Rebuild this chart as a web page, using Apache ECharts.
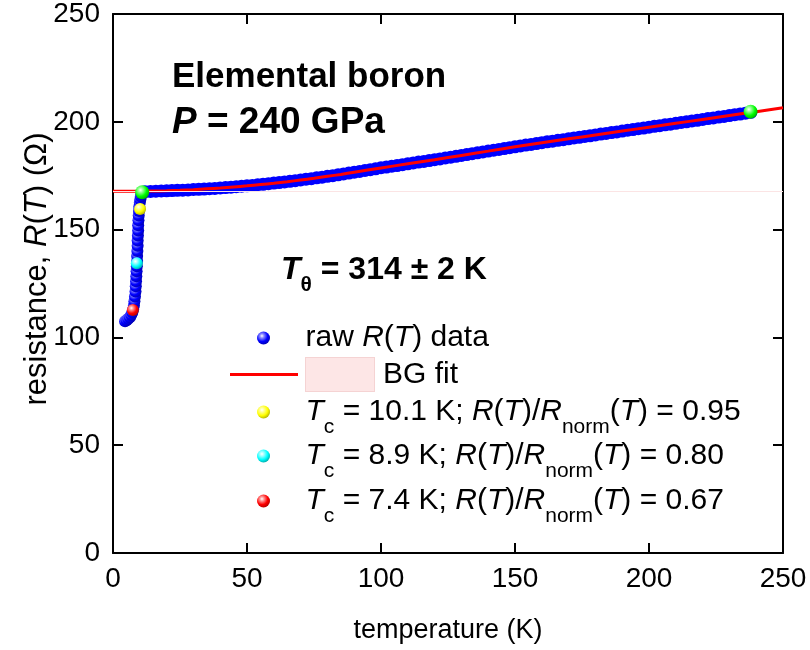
<!DOCTYPE html>
<html>
<head>
<meta charset="utf-8">
<script src="https://cdn.jsdelivr.net/npm/echarts@6/dist/echarts.min.js"></script>
<style>
  html, body { margin: 0; padding: 0; background: #ffffff; }
  #chart { width: 810px; height: 650px; }
</style>
</head>
<body>
<div id="chart"></div>
<script>
const FONT = '"Liberation Sans", Arial, Helvetica, sans-serif';

// Raw R(T) across the superconducting transition (K, Ohm)
const transT = [4.5, 5.1, 5.7, 6.3, 6.8, 7.2, 7.5, 7.8, 8.0, 8.2, 8.4, 8.5, 8.6, 8.7, 8.8, 8.9, 9.0, 9.0, 9.1, 9.2, 9.2, 9.3, 9.4, 9.4, 9.5, 9.6, 9.7, 9.8, 10.0, 10.2, 10.4, 10.6, 10.8, 11.2, 11.6];
const transR = [107.5, 108.0, 108.6, 109.4, 110.4, 111.6, 113.0, 114.8, 116.8, 119.0, 121.3, 123.7, 126.0, 128.4, 130.7, 133.0, 135.4, 137.8, 140.1, 142.5, 144.9, 147.3, 149.6, 152.0, 154.3, 156.5, 158.6, 160.6, 162.4, 164.0, 165.4, 166.5, 167.0, 167.3, 167.5];

// Raw R(T) in the normal state (K, Ohm)
const rawT = [12, 14, 16, 18, 20, 22, 24, 26, 28, 30, 32, 34, 36, 38, 40, 42, 44, 46, 48, 50,
              52, 54, 56, 58, 60, 62, 64, 66, 68, 70, 72, 74, 76, 78, 80, 82, 84, 86, 88, 90,
              92, 94, 96, 98, 100, 102, 104, 106, 108, 110, 112, 114, 116, 118, 120, 122, 124, 126, 128, 130,
              132, 134, 136, 138, 140, 142, 144, 146, 148, 150, 152, 154, 156, 158, 160, 162, 164, 166, 168, 170,
              172, 174, 176, 178, 180, 182, 184, 186, 188, 190, 192, 194, 196, 198, 200, 202, 204, 206, 208, 210,
              212, 214, 216, 218, 220, 222, 224, 226, 228, 230, 232, 234, 236, 238];
const rawR = [167.6, 167.7, 167.8, 167.9, 168.0, 168.1, 168.2, 168.3, 168.4, 168.6, 168.7, 168.8, 169.0, 169.1, 169.3, 169.5, 169.7, 169.9, 170.1, 170.3,
              170.5, 170.8, 171.0, 171.3, 171.6, 171.8, 172.1, 172.4, 172.7, 173.0, 173.4, 173.6, 174.0, 174.3, 174.7, 175.0, 175.4, 175.8, 176.2, 176.6,
              177.0, 177.4, 177.8, 178.2, 178.7, 179.0, 179.4, 179.7, 180.1, 180.5, 180.9, 181.3, 181.6, 182.0, 182.4, 182.8, 183.2, 183.6, 184.0, 184.4,
              184.8, 185.2, 185.6, 186.0, 186.4, 186.8, 187.2, 187.6, 188.0, 188.4, 188.8, 189.2, 189.5, 189.9, 190.3, 190.7, 191.0, 191.4, 191.7, 192.1,
              192.5, 192.8, 193.2, 193.5, 193.9, 194.3, 194.6, 195.0, 195.3, 195.7, 196.1, 196.4, 196.8, 197.1, 197.5, 197.9, 198.2, 198.6, 198.9, 199.3,
              199.7, 200.0, 200.4, 200.7, 201.1, 201.5, 201.8, 202.2, 202.5, 202.9, 203.3, 203.6, 204.0, 204.4];

// Bloch-Grueneisen background fit (K, Ohm)
const fitT = [0, 5, 10, 15, 20, 25, 30, 35, 40, 45, 50, 55, 60, 65, 70, 75, 80, 85, 90, 100,
              110, 120, 130, 140, 150, 160, 170, 180, 190, 200, 210, 220, 230, 240, 250];
const fitR = [167.8, 167.8, 167.8, 167.9, 168.0, 168.2, 168.5, 168.9, 169.3, 169.8, 170.3, 170.9, 171.5, 172.2, 173.0, 173.8, 174.7, 175.6, 176.6, 178.6,
              180.5, 182.4, 184.4, 186.4, 188.4, 190.3, 192.1, 193.9, 195.7, 197.5, 199.3, 201.1, 202.9, 204.7, 206.5];
const fitLevel = 167.8;

// Ends of the fitted range
const fitEndsT = [10.9, 237.9];
const fitEndsR = [167.3, 204.7];

// Tc criteria points
const tcT = [10.1, 8.9, 7.4];
const tcR = [159.6, 134.4, 112.7];
const tcColors = ['#ffff00', '#00ffff', '#ff0000'];
const tcDark = ['#b0b000', '#00a8a8', '#b00000'];
const tcLight = ['#ffff9a', '#a8ffff', '#ff9a9a'];
const tcNames = ['tc95', 'tc80', 'tc67'];
const tcLabels = [
  '{i|T}{s|c}{n| = 10.1 K; }{i|R}{n|(}{i|T}{n|)/}{i|R}{s|norm}{n|(}{i|T}{n|) = 0.95}',
  '{i|T}{s|c}{n| = 8.9 K; }{i|R}{n|(}{i|T}{n|)/}{i|R}{s|norm}{n|(}{i|T}{n|) = 0.80}',
  '{i|T}{s|c}{n| = 7.4 K; }{i|R}{n|(}{i|T}{n|)/}{i|R}{s|norm}{n|(}{i|T}{n|) = 0.67}'
];

const xTicks = { min: 0, max: 250, interval: 50 };
const yTicks = { min: 0, max: 250, interval: 50 };

function sphere(color, light, dark) {
  return {
    type: 'radial', x: 0.38, y: 0.34, r: 0.7,
    colorStops: [
      { offset: 0, color: '#ffffff' },
      { offset: 0.22, color: light },
      { offset: 0.62, color: color },
      { offset: 1, color: dark }
    ]
  };
}

const blueSphere = sphere('#0000ff', '#8c8cff', '#0000b0');

const LEG_FS = 30;
const legendRich = {
  n: { fontFamily: FONT, fontSize: LEG_FS, color: '#000', lineHeight: 30, verticalAlign: 'middle' },
  i: { fontFamily: FONT, fontSize: LEG_FS, color: '#000', lineHeight: 30, verticalAlign: 'middle', fontStyle: 'italic' },
  s: { fontFamily: FONT, fontSize: 21, color: '#000', lineHeight: 52, verticalAlign: 'bottom' },
  box: { width: 68, height: 33, lineHeight: 33, backgroundColor: '#fde6e6', borderColor: '#f5d3d3', borderWidth: 1 },
  gap: { width: 9 }
};

const legendText = {
  raw: '{n|raw }{i|R}{n|(}{i|T}{n|) data}',
  bg: '{box|}{gap|}{n|BG fit}',
  tc95: tcLabels[0],
  tc80: tcLabels[1],
  tc67: tcLabels[2]
};

// symbol icons are laid out from a narrower box than line icons,
// so those rows get a different left offset
function legendRow(name, left, top, icon) {
  const row = {
    show: true,
    data: [name],
    left: left, top: top,
    orient: 'vertical',
    padding: 0,
    itemWidth: 68, itemHeight: 13,
    selectedMode: false,
    formatter: n => legendText[n],
    textStyle: { fontFamily: FONT, fontSize: LEG_FS, color: '#000', padding: [0, 0, 0, 3], rich: legendRich }
  };
  if (icon) row.icon = icon;
  return row;
}

const axisLine = { show: true, onZero: false, lineStyle: { color: '#000', width: 2 } };
const axisTick = { show: true, inside: true, length: 10, lineStyle: { color: '#000', width: 2 } };
const tickLabel = { fontFamily: FONT, fontSize: 28, color: '#000' };

const chart = echarts.init(document.getElementById('chart'), null, { renderer: 'canvas' });

chart.setOption({
  backgroundColor: '#ffffff',
  animation: false,
  grid: { left: 113, right: 27, top: 14, bottom: 97, containLabel: false },
  xAxis: [
    {
      type: 'value', position: 'bottom', min: xTicks.min, max: xTicks.max, interval: xTicks.interval,
      axisLine: axisLine, axisTick: axisTick, splitLine: { show: false },
      axisLabel: Object.assign({ margin: 12 }, tickLabel),
      name: 'temperature (K)', nameLocation: 'middle', nameGap: 64,
      nameTextStyle: { fontFamily: FONT, fontSize: 27, color: '#000' }
    },
    {
      type: 'value', position: 'top', min: xTicks.min, max: xTicks.max, interval: xTicks.interval,
      axisLine: axisLine, axisTick: axisTick, splitLine: { show: false }, axisLabel: { show: false }
    }
  ],
  yAxis: [
    {
      type: 'value', position: 'left', min: yTicks.min, max: yTicks.max, interval: yTicks.interval,
      axisLine: axisLine, axisTick: axisTick, splitLine: { show: false },
      axisLabel: Object.assign({ margin: 13 }, tickLabel)
    },
    {
      type: 'value', position: 'right', min: yTicks.min, max: yTicks.max, interval: yTicks.interval,
      axisLine: axisLine, axisTick: axisTick, splitLine: { show: false }, axisLabel: { show: false }
    }
  ],
  legend: [
    legendRow('raw', 257, 323, null),
    legendRow('bg', 230, 357, 'path://M0,0 H68 V3 H0 Z'),
    legendRow('tc95', 257, 397, null),
    legendRow('tc80', 257, 441, null),
    legendRow('tc67', 257, 486, null)
  ],
  graphic: [
    {
      // y-axis title
      type: 'text', x: 37, y: 269, rotation: Math.PI / 2, z: 10,
      style: {
        text: '{n|resistance, }{i|R}{n|(}{i|T}{n|) (Ω)}',
        align: 'center', verticalAlign: 'middle',
        rich: {
          n: { fontFamily: FONT, fontSize: 31, color: '#000' },
          i: { fontFamily: FONT, fontSize: 31, color: '#000', fontStyle: 'italic' }
        }
      }
    },
    {
      type: 'text', left: 172, top: 60, z: 10,
      style: { text: 'Elemental boron', font: 'bold 35px ' + FONT, fill: '#000' }
    },
    {
      type: 'text', left: 172, top: 104, z: 10,
      style: {
        text: '{bi|P}{b| = 240 GPa}',
        rich: {
          b: { fontFamily: FONT, fontSize: 37, fontWeight: 'bold', color: '#000' },
          bi: { fontFamily: FONT, fontSize: 37, fontWeight: 'bold', fontStyle: 'italic', color: '#000' }
        }
      }
    },
    {
      type: 'text', left: 281, top: 254, z: 10,
      style: {
        text: '{bi|T}{bs|θ}{b| = 314 ± 2 K}',
        rich: {
          b: { fontFamily: FONT, fontSize: 32, fontWeight: 'bold', color: '#000', lineHeight: 34, verticalAlign: 'middle' },
          bi: { fontFamily: FONT, fontSize: 32, fontWeight: 'bold', fontStyle: 'italic', color: '#000', lineHeight: 34, verticalAlign: 'middle' },
          bs: { fontFamily: FONT, fontSize: 21, fontWeight: 'bold', color: '#000', lineHeight: 52, verticalAlign: 'bottom' }
        }
      }
    }
  ],
  series: [
    {
      // transition points drawn as shaded spheres
      name: 'raw', type: 'scatter', xAxisIndex: 0, yAxisIndex: 0,
      symbol: 'circle', symbolSize: 12, z: 2,
      itemStyle: { color: blueSphere, opacity: 1 },
      data: transT.map((t, i) => [t, transR[i]])
    },
    {
      name: 'raw', type: 'scatter', xAxisIndex: 0, yAxisIndex: 0,
      symbol: 'circle', symbolSize: 13, z: 2,
      itemStyle: { color: '#0000ff', opacity: 1 },
      data: rawT.map((t, i) => [t, rawR[i]])
    },
    {
      name: 'bg', type: 'line', xAxisIndex: 0, yAxisIndex: 0,
      symbol: 'none', smooth: 0.3, z: 3,
      lineStyle: { color: '#ff0000', width: 3 },
      itemStyle: { color: '#ff0000' },
      data: fitT.map((t, i) => [t, fitR[i]]),
      markLine: {
        silent: true, symbol: 'none', label: { show: false },
        lineStyle: { color: '#fbe4e4', width: 1, type: 'solid' },
        data: [{ yAxis: fitLevel }]
      }
    },
    {
      name: 'fitEnds', type: 'scatter', xAxisIndex: 0, yAxisIndex: 0,
      symbol: 'circle', symbolSize: 14, z: 5,
      itemStyle: { color: sphere('#00ff00', '#a0ffa0', '#00a800'), opacity: 1 },
      data: fitEndsT.map((t, i) => [t, fitEndsR[i]])
    }
  ].concat(tcNames.map((nm, k) => ({
    name: nm, type: 'scatter', xAxisIndex: 0, yAxisIndex: 0,
    symbol: 'circle', symbolSize: 12, z: 5,
    itemStyle: { color: sphere(tcColors[k], tcLight[k], tcDark[k]), opacity: 1 },
    data: [[tcT[k], tcR[k]]]
  })))
});
</script>
</body>
</html>
